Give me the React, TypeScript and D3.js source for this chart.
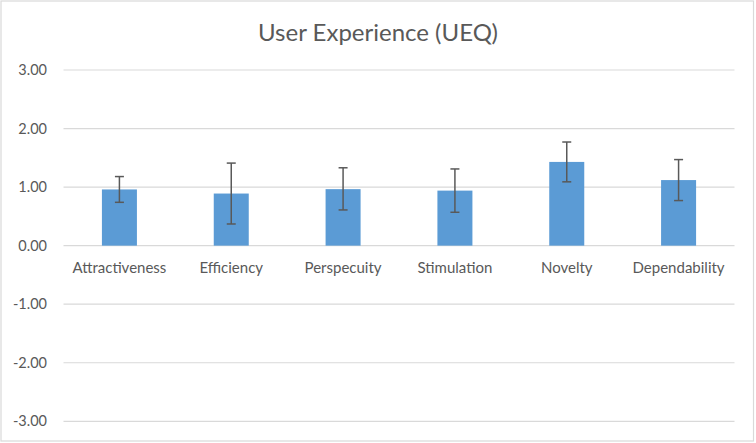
import React from "react";
import * as d3 from "d3";

const categories = ["Attractiveness", "Efficiency", "Perspecuity", "Stimulation", "Novelty", "Dependability"];
const means = [0.96, 0.89, 0.965, 0.94, 1.43, 1.12];
const errUpper = [1.18, 1.41, 1.33, 1.31, 1.77, 1.47];
const errLower = [0.74, 0.37, 0.61, 0.57, 1.09, 0.77];
const yTicks = [3, 2, 1, 0, -1, -2, -3];
const title = "User Experience (UEQ)";

const W = 756;
const H = 443;
const FONT = "Lato, 'Open Sans', sans-serif";

export default function App() {
  React.useEffect(() => {
    document.body.style.margin = "0";
  }, []);

  const x = d3
    .scaleBand<string>()
    .domain(categories)
    .range([63.5, 734.5])
    .paddingInner(0.687)
    .paddingOuter(0.3435);
  const y = d3.scaleLinear().domain([-3, 3]).range([421.3, 70]);
  const bw = x.bandwidth();
  const cap = 4.5;

  return (
    <svg width={W} height={H} style={{ display: "block" }}>
      <rect x={0} y={0} width={W} height={H} fill="#ffffff" />
      <rect x={1} y={1} width={752.5} height={440} fill="none" stroke="#d9d9d9" strokeWidth={1.2} />
      <text x={378} y={41} textAnchor="middle" fontFamily={FONT} fontSize={24} fill="#595959">
        {title}
      </text>
      {yTicks.map((t) => (
        <g key={t}>
          <line x1={63.5} x2={734.5} y1={y(t)} y2={y(t)} stroke="#d9d9d9" strokeWidth={1.2} />
          <text x={47} y={y(t)} dy="0.35em" textAnchor="end" fontFamily={FONT} fontSize={14.5} fill="#595959">
            {t.toFixed(2)}
          </text>
        </g>
      ))}
      {categories.map((c, i) => {
        const x0 = x(c)!;
        const cx = x0 + bw / 2;
        return (
          <g key={c}>
            <rect x={x0} y={y(means[i])} width={bw} height={y(0) - y(means[i])} fill="#5b9bd5" />
            <line x1={cx} x2={cx} y1={y(errUpper[i])} y2={y(errLower[i])} stroke="#595959" strokeWidth={1.5} />
            <line x1={cx - cap} x2={cx + cap} y1={y(errUpper[i])} y2={y(errUpper[i])} stroke="#595959" strokeWidth={1.5} />
            <line x1={cx - cap} x2={cx + cap} y1={y(errLower[i])} y2={y(errLower[i])} stroke="#595959" strokeWidth={1.5} />
            <text x={cx} y={268} dy="0.35em" textAnchor="middle" fontFamily={FONT} fontSize={15} fill="#595959">
              {c}
            </text>
          </g>
        );
      })}
    </svg>
  );
}
